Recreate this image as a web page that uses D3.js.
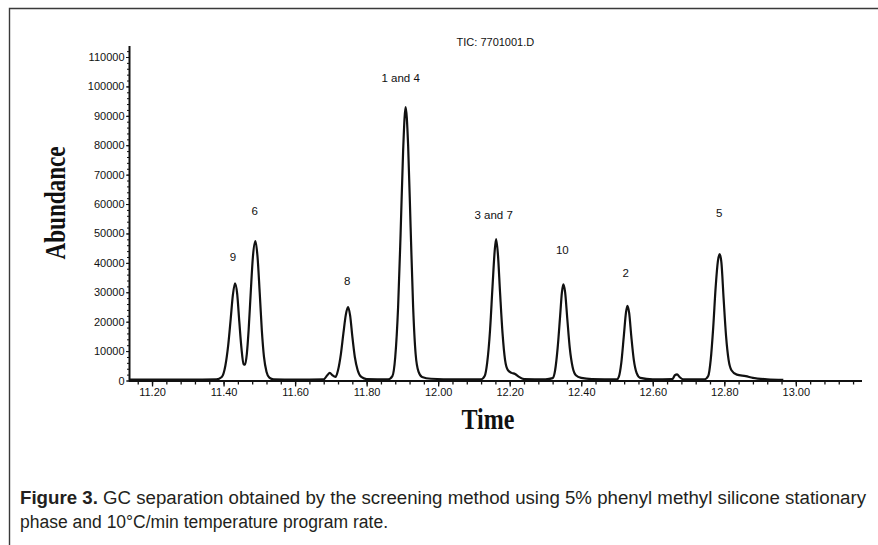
<!DOCTYPE html>
<html>
<head>
<meta charset="utf-8">
<script src="https://cdn.jsdelivr.net/npm/d3@7"></script>
<style>
  body { margin: 0; background: #fff; }
  svg { display: block; }
</style>
</head>
<body>
<div id="chart"></div>
<script>

//chromatogram trace (time in min, abundance)
var traceTime = [
  11.137, 11.30, 11.38, 11.395, 11.405, 11.413, 11.420, 11.426, 11.432, 11.438,
  11.444, 11.450, 11.456, 11.460, 11.465, 11.470, 11.476, 11.482, 11.489, 11.495,
  11.501, 11.507, 11.513, 11.520, 11.528, 11.540, 11.60, 11.68, 11.690, 11.697,
  11.704, 11.713, 11.720, 11.728, 11.735, 11.742, 11.748, 11.754, 11.760, 11.767,
  11.775, 11.785, 11.80, 11.86, 11.872, 11.880, 11.888, 11.895, 11.902, 11.909,
  11.916, 11.923, 11.930, 11.937, 11.945, 11.955, 11.98, 12.05, 12.12, 12.13,
  12.137, 12.145, 12.152, 12.158, 12.162, 12.167, 12.173, 12.180, 12.187, 12.195,
  12.205, 12.215, 12.225, 12.24, 12.30, 12.32, 12.327, 12.334, 12.341, 12.346,
  12.350, 12.355, 12.361, 12.368, 12.376, 12.385, 12.40, 12.43, 12.50, 12.505,
  12.512, 12.519, 12.525, 12.529, 12.534, 12.540, 12.547, 12.555, 12.565, 12.60,
  12.655, 12.662, 12.668, 12.675, 12.685, 12.745, 12.755, 12.762, 12.769, 12.776,
  12.782, 12.787, 12.792, 12.798, 12.805, 12.812, 12.820, 12.835, 12.86, 12.88,
  12.92, 12.965
];
var traceAbundance = [
  300, 300, 400, 1200, 5000, 12000, 21000, 29000, 33000, 29500,
  20000, 11000, 5600, 5400, 9000, 17000, 30000, 42000, 47400, 42000,
  30000, 17000, 8000, 3000, 1000, 400, 300, 400, 1800, 2600,
  1800, 1200, 3500, 9000, 16000, 22500, 25000, 22000, 15000, 8000,
  3500, 1200, 500, 400, 1500, 8000, 25000, 50000, 78000, 93000,
  80000, 52000, 25000, 9000, 3000, 1200, 600, 400, 400, 1500,
  6000, 17000, 32000, 44000, 48100, 43000, 30000, 16000, 7000, 3500,
  2600, 2200, 1300, 500, 400, 800, 3500, 11000, 22000, 30000,
  32700, 30000, 21000, 11000, 4500, 1800, 900, 500, 400, 1200,
  6000, 15000, 23000, 25400, 23000, 15000, 7000, 2500, 900, 400,
  500, 1800, 2100, 1200, 400, 400, 1500, 7000, 18000, 32000,
  40500, 43000, 40000, 28000, 15000, 7000, 3500, 2000, 1500, 900,
  400, 200
];

//peak labels
var peakNames = ["9", "6", "8", "1 and 4", "3 and 7", "10", "2", "5"];
var peakLabelTime = [11.426, 11.487, 11.746, 11.895, 12.155, 12.347, 12.524, 12.786];
var peakLabelAbundance = [40600, 56300, 32500, 101500, 54900, 43000, 35200, 55600];

//axis ticks
var xTickLabels = ["11.20", "11.40", "11.60", "11.80", "12.00", "12.20", "12.40", "12.60", "12.80", "13.00"];
var yTickValues = [0, 10000, 20000, 30000, 40000, 50000, 60000, 70000, 80000, 90000, 100000, 110000];

var chartTitle = "TIC: 7701001.D";
var xTitle = "Time";
var yTitle = "Abundance";
var captionBold = "Figure 3.";
var captionLine1 = " GC separation obtained by the screening method using 5% phenyl methyl silicone stationary";
var captionLine2 = "phase and 10°C/min temperature program rate.";

var width = 878;
var height = 545;
var labelFont = "Liberation Sans, Arial, sans-serif";

var svg = d3.select("#chart").append("svg")
    .attr("width", width)
    .attr("height", height);

//figure frame (open at right and bottom)
svg.append("path")
    .attr("d", "M9.5,545V8.5H878")
    .attr("fill", "none")
    .attr("stroke", "#3a3a3a")
    .attr("stroke-width", 1.4);

var x = d3.scaleLinear()
    .domain([11.137, 13.185])
    .range([129.5, 862]);

var y = d3.scaleLinear()
    .domain([0, 110000])
    .range([380.5, 57]);

//y axis: major ticks with labels, minor every 2000
var yMinor = d3.range(0, 112001, 2000);
svg.append("g")
    .attr("transform", "translate(129.5,0)")
    .call(d3.axisLeft(y).tickValues(yMinor).tickSize(2.5).tickFormat(""))
    .call(function(g) { g.select(".domain").remove(); })
    .selectAll("line").attr("stroke", "#111").attr("stroke-width", 1);

var yAxis = svg.append("g")
    .attr("transform", "translate(129.5,0)")
    .call(d3.axisLeft(y).tickValues(yTickValues).tickSize(3.5).tickPadding(1.5).tickFormat(d3.format("d")));
yAxis.select(".domain").remove();
yAxis.selectAll("line").attr("stroke", "#111");
yAxis.selectAll("text")
    .attr("font-family", labelFont)
    .attr("font-size", "11px")
    .attr("fill", "#111");

svg.append("line")
    .attr("x1", 129.5).attr("x2", 129.5)
    .attr("y1", 46).attr("y2", 381.5)
    .attr("stroke", "#111")
    .attr("stroke-width", 2);

//x axis: minor every 0.04, major every 0.2
var xMinor = d3.range(0, 51).map(function(i) { return 11.16 + i * 0.04; })
    .filter(function(d) { return d < 13.18; });
svg.append("g")
    .attr("transform", "translate(0,381)")
    .call(d3.axisBottom(x).tickValues(xMinor).tickSize(3.5).tickFormat(""))
    .call(function(g) { g.select(".domain").remove(); })
    .selectAll("line").attr("stroke", "#111").attr("stroke-width", 1.3);

var xAxis = svg.append("g")
    .attr("transform", "translate(0,381)")
    .call(d3.axisBottom(x)
      .tickValues(xTickLabels.map(function(d) { return +d; }))
      .tickSize(5.5)
      .tickPadding(1.5)
      .tickFormat(function(d, i) { return xTickLabels[i]; }));
xAxis.select(".domain").remove();
xAxis.selectAll("line").attr("stroke", "#111").attr("stroke-width", 1.3);
xAxis.selectAll("text")
    .attr("font-family", labelFont)
    .attr("font-size", "11px")
    .attr("fill", "#111");

svg.append("line")
    .attr("x1", 129).attr("x2", 862)
    .attr("y1", 381).attr("y2", 381)
    .attr("stroke", "#111")
    .attr("stroke-width", 2);

//trace
var points = traceTime.map(function(t, i) { return [t, traceAbundance[i]]; });
var line = d3.line()
    .x(function(d) { return x(d[0]); })
    .y(function(d) { return y(d[1]); })
    .curve(d3.curveMonotoneX);

svg.append("path")
    .datum(points)
    .attr("d", line)
    .attr("fill", "none")
    .attr("stroke", "#111")
    .attr("stroke-width", 2.2)
    .attr("stroke-linejoin", "round");

//peak labels
svg.selectAll(".peak-label")
    .data(peakNames)
    .enter().append("text")
    .attr("class", "peak-label")
    .attr("x", function(d, i) { return x(peakLabelTime[i]); })
    .attr("y", function(d, i) { return y(peakLabelAbundance[i]); })
    .attr("text-anchor", "middle")
    .attr("font-family", labelFont)
    .attr("font-size", "11.5px")
    .attr("fill", "#111")
    .text(function(d) { return d; });

//chart title
svg.append("text")
    .attr("x", x(12.160))
    .attr("y", 46)
    .attr("text-anchor", "middle")
    .attr("font-family", labelFont)
    .attr("font-size", "11px")
    .attr("fill", "#111")
    .text(chartTitle);

//axis titles
svg.append("text")
    .attr("transform", "translate(65,203) rotate(-90)")
    .attr("text-anchor", "middle")
    .attr("font-family", "Liberation Serif, Times New Roman, serif")
    .attr("font-weight", "bold")
    .attr("font-size", "30px")
    .attr("textLength", 113)
    .attr("lengthAdjust", "spacingAndGlyphs")
    .attr("fill", "#111")
    .text(yTitle);

svg.append("text")
    .attr("x", 488)
    .attr("y", 429)
    .attr("text-anchor", "middle")
    .attr("font-family", "Liberation Serif, Times New Roman, serif")
    .attr("font-weight", "bold")
    .attr("font-size", "30px")
    .attr("textLength", 53)
    .attr("lengthAdjust", "spacingAndGlyphs")
    .attr("fill", "#111")
    .text(xTitle);

//caption
var cap1 = svg.append("text")
    .attr("x", 20)
    .attr("y", 504)
    .attr("font-family", labelFont)
    .attr("font-size", "18px")
    .attr("fill", "#231f20")
    .attr("textLength", 846)
    .attr("lengthAdjust", "spacingAndGlyphs");
cap1.append("tspan").attr("font-weight", "bold").text(captionBold);
cap1.append("tspan").text(captionLine1);

svg.append("text")
    .attr("x", 20)
    .attr("y", 528)
    .attr("font-family", labelFont)
    .attr("font-size", "18px")
    .attr("fill", "#231f20")
    .attr("textLength", 368)
    .attr("lengthAdjust", "spacingAndGlyphs")
    .text(captionLine2);

</script>
</body>
</html>
